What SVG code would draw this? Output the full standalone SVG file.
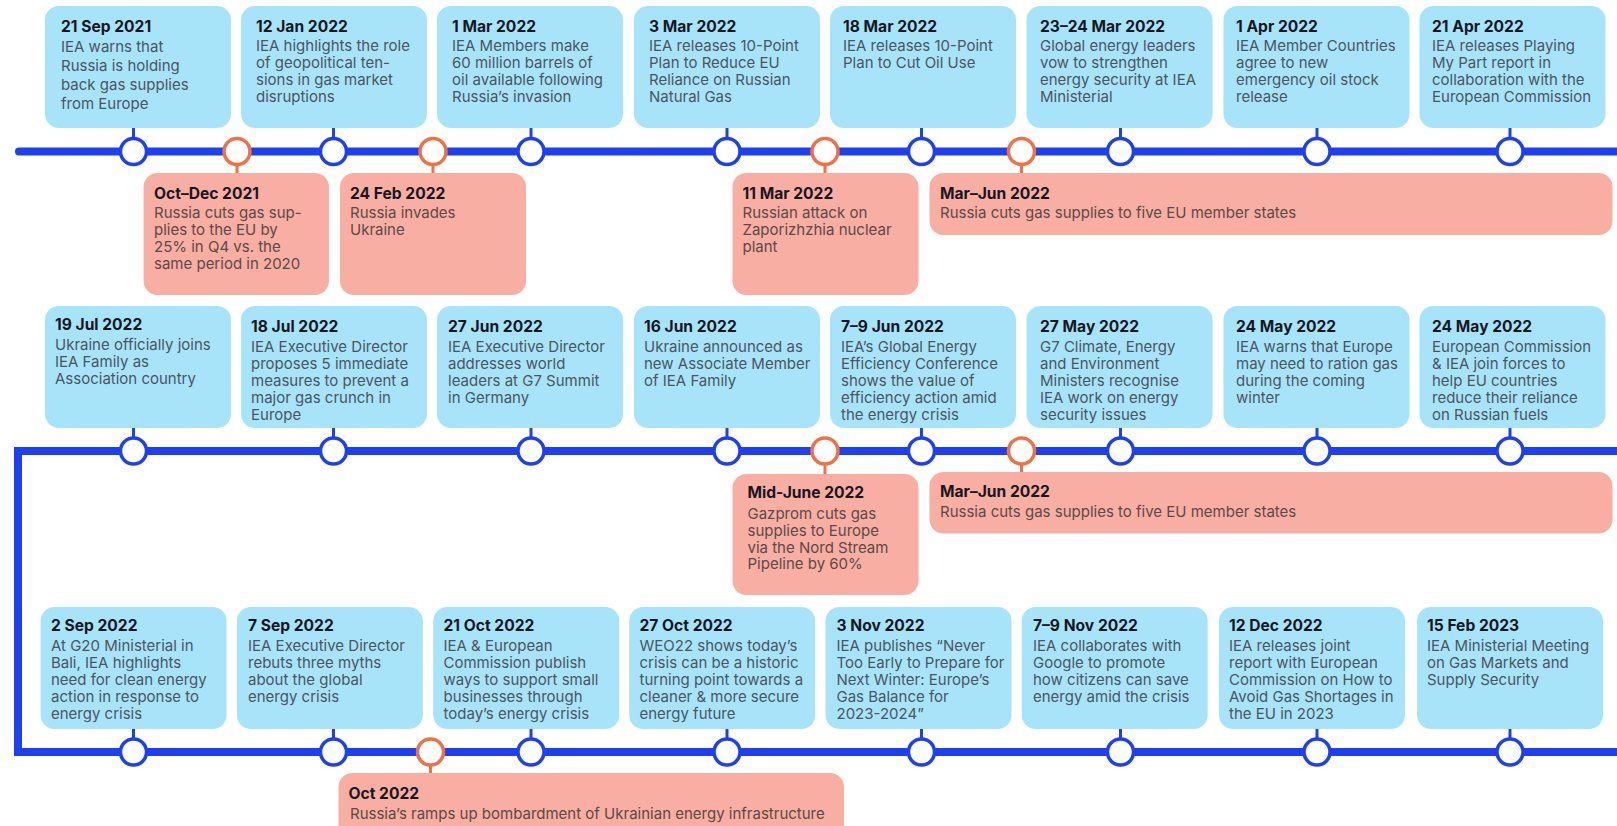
<svg xmlns="http://www.w3.org/2000/svg" width="1617" height="826" viewBox="0 0 1617 826">
<style>
.bb{fill:#a7e4fa}
.pb{fill:#f8aea2}
.t{font-family:Inter,"Liberation Sans",sans-serif;font-size:15.6px;font-weight:700;fill:#17171f}
.b{font-family:Inter,"Liberation Sans",sans-serif;font-size:15px;fill:#4b5560}
.pt{fill:#5b4a47}
.track{fill:none;stroke:#1e40f0;stroke-width:8}
.cb{fill:#fff;stroke:#1e40f0;stroke-width:3.5}
.co{fill:#fff;stroke:#ee7246;stroke-width:3.5}
.sb{stroke:#1e40f0;stroke-width:3}
.so{stroke:#ee7246;stroke-width:3}
</style>
<rect width="1617" height="826" fill="#fff"/>

<g id="connectors">
<line class="track" x1="19" y1="151.5" x2="1617" y2="151.5" stroke-linecap="round"/>
<path class="track" d="M1617,451 H18 V752 H1617" stroke-linejoin="miter"/>
<!-- row 1 stubs -->
<line class="sb" x1="133.5" y1="127" x2="133.5" y2="139"/>
<line class="sb" x1="333.5" y1="127" x2="333.5" y2="139"/>
<line class="sb" x1="531" y1="127" x2="531" y2="139"/>
<line class="sb" x1="727" y1="127" x2="727" y2="139"/>
<line class="sb" x1="921.5" y1="127" x2="921.5" y2="139"/>
<line class="sb" x1="1120.5" y1="127" x2="1120.5" y2="139"/>
<line class="sb" x1="1317" y1="127" x2="1317" y2="139"/>
<line class="sb" x1="1510" y1="127" x2="1510" y2="139"/>
<line class="so" x1="237" y1="164" x2="237" y2="174"/>
<line class="so" x1="433" y1="164" x2="433" y2="174"/>
<line class="so" x1="825" y1="164" x2="825" y2="174"/>
<line class="so" x1="1021.5" y1="164" x2="1021.5" y2="174"/>
<!-- row 2 stubs -->
<line class="sb" x1="133.5" y1="427" x2="133.5" y2="438"/>
<line class="sb" x1="333.5" y1="427" x2="333.5" y2="438"/>
<line class="sb" x1="531" y1="427" x2="531" y2="438"/>
<line class="sb" x1="727" y1="427" x2="727" y2="438"/>
<line class="sb" x1="921.5" y1="427" x2="921.5" y2="438"/>
<line class="sb" x1="1120.5" y1="427" x2="1120.5" y2="438"/>
<line class="sb" x1="1317" y1="427" x2="1317" y2="438"/>
<line class="sb" x1="1510" y1="427" x2="1510" y2="438"/>
<line class="so" x1="825" y1="464" x2="825" y2="475"/>
<line class="so" x1="1021.5" y1="464" x2="1021.5" y2="473"/>
<!-- row 3 stubs -->
<line class="sb" x1="133.5" y1="728" x2="133.5" y2="739"/>
<line class="sb" x1="333.5" y1="728" x2="333.5" y2="739"/>
<line class="sb" x1="531" y1="728" x2="531" y2="739"/>
<line class="sb" x1="727" y1="728" x2="727" y2="739"/>
<line class="sb" x1="921.5" y1="728" x2="921.5" y2="739"/>
<line class="sb" x1="1120.5" y1="728" x2="1120.5" y2="739"/>
<line class="sb" x1="1317" y1="728" x2="1317" y2="739"/>
<line class="sb" x1="1510" y1="728" x2="1510" y2="739"/>
<line class="so" x1="430.5" y1="765" x2="430.5" y2="774"/>
<!-- circles row 1 -->
<circle class="cb" cx="133.5" cy="151.5" r="13"/>
<circle class="co" cx="237" cy="151.5" r="13"/>
<circle class="cb" cx="333.5" cy="151.5" r="13"/>
<circle class="co" cx="433" cy="151.5" r="13"/>
<circle class="cb" cx="531" cy="151.5" r="13"/>
<circle class="cb" cx="727" cy="151.5" r="13"/>
<circle class="co" cx="825" cy="151.5" r="13"/>
<circle class="cb" cx="921.5" cy="151.5" r="13"/>
<circle class="co" cx="1021.5" cy="151.5" r="13"/>
<circle class="cb" cx="1120.5" cy="151.5" r="13"/>
<circle class="cb" cx="1317" cy="151.5" r="13"/>
<circle class="cb" cx="1510" cy="151.5" r="13"/>
<!-- circles row 2 -->
<circle class="cb" cx="133.5" cy="451" r="13"/>
<circle class="cb" cx="333.5" cy="451" r="13"/>
<circle class="cb" cx="531" cy="451" r="13"/>
<circle class="cb" cx="727" cy="451" r="13"/>
<circle class="co" cx="825" cy="451" r="13"/>
<circle class="cb" cx="921.5" cy="451" r="13"/>
<circle class="co" cx="1021.5" cy="451" r="13"/>
<circle class="cb" cx="1120.5" cy="451" r="13"/>
<circle class="cb" cx="1317" cy="451" r="13"/>
<circle class="cb" cx="1510" cy="451" r="13"/>
<!-- circles row 3 -->
<circle class="cb" cx="133.5" cy="752" r="13"/>
<circle class="cb" cx="333.5" cy="752" r="13"/>
<circle class="co" cx="430.5" cy="752" r="13"/>
<circle class="cb" cx="531" cy="752" r="13"/>
<circle class="cb" cx="727" cy="752" r="13"/>
<circle class="cb" cx="921.5" cy="752" r="13"/>
<circle class="cb" cx="1120.5" cy="752" r="13"/>
<circle class="cb" cx="1317" cy="752" r="13"/>
<circle class="cb" cx="1510" cy="752" r="13"/>
</g>

<!-- ROW 1 -->
<g id="n-2021-09-21">
<rect class="bb" x="45" y="6" width="186" height="122" rx="14"/>
<text class="t" x="61" y="31.5">21 Sep 2021</text>
<text class="b"><tspan x="61" y="51.5">IEA warns that</tspan><tspan x="61" y="70.8">Russia is holding</tspan><tspan x="61" y="90.1">back gas supplies</tspan><tspan x="61" y="109.4">from Europe</tspan></text>
</g>
<g id="n-2022-01-12">
<rect class="bb" x="241" y="6" width="186" height="122" rx="14"/>
<text class="t" x="256" y="31.5">12 Jan 2022</text>
<text class="b"><tspan x="256" y="51">IEA highlights the role</tspan><tspan x="256" y="68">of geopolitical ten-</tspan><tspan x="256" y="85">sions in gas market</tspan><tspan x="256" y="102">disruptions</tspan></text>
</g>
<g id="n-2022-03-01">
<rect class="bb" x="437" y="6" width="186" height="122" rx="14"/>
<text class="t" x="452" y="31.5">1 Mar 2022</text>
<text class="b"><tspan x="452" y="51">IEA Members make</tspan><tspan x="452" y="68">60 million barrels of</tspan><tspan x="452" y="85">oil available following</tspan><tspan x="452" y="102">Russia’s invasion</tspan></text>
</g>
<g id="n-2022-03-03">
<rect class="bb" x="634" y="6" width="186" height="122" rx="14"/>
<text class="t" x="649" y="31.5">3 Mar 2022</text>
<text class="b"><tspan x="649" y="51">IEA releases 10-Point</tspan><tspan x="649" y="68">Plan to Reduce EU</tspan><tspan x="649" y="85">Reliance on Russian</tspan><tspan x="649" y="102">Natural Gas</tspan></text>
</g>
<g id="n-2022-03-18">
<rect class="bb" x="830" y="6" width="186" height="122" rx="14"/>
<text class="t" x="843" y="31.5">18 Mar 2022</text>
<text class="b"><tspan x="843" y="51">IEA releases 10-Point</tspan><tspan x="843" y="68">Plan to Cut Oil Use</tspan></text>
</g>
<g id="n-2022-03-23">
<rect class="bb" x="1026.5" y="6" width="186" height="122" rx="14"/>
<text class="t" x="1040" y="31.5">23–24 Mar 2022</text>
<text class="b"><tspan x="1040" y="51">Global energy leaders</tspan><tspan x="1040" y="68">vow to strengthen</tspan><tspan x="1040" y="85">energy security at IEA</tspan><tspan x="1040" y="102">Ministerial</tspan></text>
</g>
<g id="n-2022-04-01">
<rect class="bb" x="1223.5" y="6" width="186" height="122" rx="14"/>
<text class="t" x="1236" y="31.5">1 Apr 2022</text>
<text class="b"><tspan x="1236" y="51">IEA Member Countries</tspan><tspan x="1236" y="68">agree to new</tspan><tspan x="1236" y="85">emergency oil stock</tspan><tspan x="1236" y="102">release</tspan></text>
</g>
<g id="n-2022-04-21">
<rect class="bb" x="1419.5" y="6" width="186" height="122" rx="14"/>
<text class="t" x="1432" y="31.5">21 Apr 2022</text>
<text class="b"><tspan x="1432" y="51">IEA releases Playing</tspan><tspan x="1432" y="68">My Part report in</tspan><tspan x="1432" y="85">collaboration with the</tspan><tspan x="1432" y="102">European Commission</tspan></text>
</g>

<g id="e-2021-q4">
<rect class="pb" x="143.6" y="173" width="185.3" height="122" rx="14"/>
<text class="t" x="154" y="199">Oct–Dec 2021</text>
<text class="b pt"><tspan x="154" y="218.3">Russia cuts gas sup-</tspan><tspan x="154" y="235.3">plies to the EU by</tspan><tspan x="154" y="252.3">25% in Q4 vs. the</tspan><tspan x="154" y="269.3">same period in 2020</tspan></text>
</g>
<g id="e-2022-02-24">
<rect class="pb" x="340" y="173" width="186" height="122" rx="14"/>
<text class="t" x="350" y="199">24 Feb 2022</text>
<text class="b pt"><tspan x="350" y="218.3">Russia invades</tspan><tspan x="350" y="235.3">Ukraine</tspan></text>
</g>
<g id="e-2022-03-11">
<rect class="pb" x="732.5" y="173" width="186" height="122" rx="14"/>
<text class="t" x="742.5" y="199">11 Mar 2022</text>
<text class="b pt"><tspan x="742.5" y="218.3">Russian attack on</tspan><tspan x="742.5" y="235.3">Zaporizhzhia nuclear</tspan><tspan x="742.5" y="252.3">plant</tspan></text>
</g>
<g id="e-2022-mar-jun-a">
<rect class="pb" x="929.5" y="173" width="683" height="62" rx="14"/>
<text class="t" x="940" y="199">Mar–Jun 2022</text>
<text class="b pt" x="940" y="218.3">Russia cuts gas supplies to five EU member states</text>
</g>

<!-- ROW 2 -->
<g id="n-2022-07-19">
<rect class="bb" x="45" y="306" width="186" height="122" rx="14"/>
<text class="t" x="55" y="329.5">19 Jul 2022</text>
<text class="b"><tspan x="55" y="349.5">Ukraine officially joins</tspan><tspan x="55" y="366.5">IEA Family as</tspan><tspan x="55" y="383.5">Association country</tspan></text>
</g>
<g id="n-2022-07-18">
<rect class="bb" x="241" y="306" width="186" height="122" rx="14"/>
<text class="t" x="251" y="332">18 Jul 2022</text>
<text class="b"><tspan x="251" y="352">IEA Executive Director</tspan><tspan x="251" y="369">proposes 5 immediate</tspan><tspan x="251" y="386">measures to prevent a</tspan><tspan x="251" y="403">major gas crunch in</tspan><tspan x="251" y="420">Europe</tspan></text>
</g>
<g id="n-2022-06-27">
<rect class="bb" x="437" y="306" width="186" height="122" rx="14"/>
<text class="t" x="448" y="332">27 Jun 2022</text>
<text class="b"><tspan x="448" y="352">IEA Executive Director</tspan><tspan x="448" y="369">addresses world</tspan><tspan x="448" y="386">leaders at G7 Summit</tspan><tspan x="448" y="403">in Germany</tspan></text>
</g>
<g id="n-2022-06-16">
<rect class="bb" x="634" y="306" width="186" height="122" rx="14"/>
<text class="t" x="644" y="332">16 Jun 2022</text>
<text class="b"><tspan x="644" y="352">Ukraine announced as</tspan><tspan x="644" y="369">new Associate Member</tspan><tspan x="644" y="386">of IEA Family</tspan></text>
</g>
<g id="n-2022-06-07">
<rect class="bb" x="830" y="306" width="186" height="122" rx="14"/>
<text class="t" x="841" y="332">7–9 Jun 2022</text>
<text class="b"><tspan x="841" y="352">IEA’s Global Energy</tspan><tspan x="841" y="369">Efficiency Conference</tspan><tspan x="841" y="386">shows the value of</tspan><tspan x="841" y="403">efficiency action amid</tspan><tspan x="841" y="420">the energy crisis</tspan></text>
</g>
<g id="n-2022-05-27">
<rect class="bb" x="1026.5" y="306" width="186" height="122" rx="14"/>
<text class="t" x="1040" y="332">27 May 2022</text>
<text class="b"><tspan x="1040" y="352">G7 Climate, Energy</tspan><tspan x="1040" y="369">and Environment</tspan><tspan x="1040" y="386">Ministers recognise</tspan><tspan x="1040" y="403">IEA work on energy</tspan><tspan x="1040" y="420">security issues</tspan></text>
</g>
<g id="n-2022-05-24a">
<rect class="bb" x="1223.5" y="306" width="186" height="122" rx="14"/>
<text class="t" x="1236" y="332">24 May 2022</text>
<text class="b"><tspan x="1236" y="352">IEA warns that Europe</tspan><tspan x="1236" y="369">may need to ration gas</tspan><tspan x="1236" y="386">during the coming</tspan><tspan x="1236" y="403">winter</tspan></text>
</g>
<g id="n-2022-05-24b">
<rect class="bb" x="1419.5" y="306" width="186" height="122" rx="14"/>
<text class="t" x="1432" y="332">24 May 2022</text>
<text class="b"><tspan x="1432" y="352">European Commission</tspan><tspan x="1432" y="369">&amp; IEA join forces to</tspan><tspan x="1432" y="386">help EU countries</tspan><tspan x="1432" y="403">reduce their reliance</tspan><tspan x="1432" y="420">on Russian fuels</tspan></text>
</g>

<g id="e-2022-mid-june">
<rect class="pb" x="732.5" y="474" width="186" height="121" rx="14"/>
<text class="t" x="747.5" y="498.3">Mid-June 2022</text>
<text class="b pt"><tspan x="747.5" y="519.3">Gazprom cuts gas</tspan><tspan x="747.5" y="536">supplies to Europe</tspan><tspan x="747.5" y="552.7">via the Nord Stream</tspan><tspan x="747.5" y="569.4">Pipeline by 60%</tspan></text>
</g>
<g id="e-2022-mar-jun-b">
<rect class="pb" x="929.5" y="472" width="683" height="61.5" rx="14"/>
<text class="t" x="940" y="496.7">Mar–Jun 2022</text>
<text class="b pt" x="940" y="516.7">Russia cuts gas supplies to five EU member states</text>
</g>

<!-- ROW 3 -->
<g id="n-2022-09-02">
<rect class="bb" x="40.6" y="607" width="186" height="122" rx="14"/>
<text class="t" x="51" y="630.5">2 Sep 2022</text>
<text class="b"><tspan x="51" y="650.5">At G20 Ministerial in</tspan><tspan x="51" y="667.5">Bali, IEA highlights</tspan><tspan x="51" y="684.5">need for clean energy</tspan><tspan x="51" y="701.5">action in response to</tspan><tspan x="51" y="718.5">energy crisis</tspan></text>
</g>
<g id="n-2022-09-07">
<rect class="bb" x="236.9" y="607" width="186" height="122" rx="14"/>
<text class="t" x="248" y="630.5">7 Sep 2022</text>
<text class="b"><tspan x="248" y="650.5">IEA Executive Director</tspan><tspan x="248" y="667.5">rebuts three myths</tspan><tspan x="248" y="684.5">about the global</tspan><tspan x="248" y="701.5">energy crisis</tspan></text>
</g>
<g id="n-2022-10-21">
<rect class="bb" x="433.2" y="607" width="186" height="122" rx="14"/>
<text class="t" x="443.5" y="630.5">21 Oct 2022</text>
<text class="b"><tspan x="443.5" y="650.5">IEA &amp; European</tspan><tspan x="443.5" y="667.5">Commission publish</tspan><tspan x="443.5" y="684.5">ways to support small</tspan><tspan x="443.5" y="701.5">businesses through</tspan><tspan x="443.5" y="718.5">today’s energy crisis</tspan></text>
</g>
<g id="n-2022-10-27">
<rect class="bb" x="629.2" y="607" width="186" height="122" rx="14"/>
<text class="t" x="639.5" y="630.5">27 Oct 2022</text>
<text class="b"><tspan x="639.5" y="650.5">WEO22 shows today’s</tspan><tspan x="639.5" y="667.5">crisis can be a historic</tspan><tspan x="639.5" y="684.5">turning point towards a</tspan><tspan x="639.5" y="701.5">cleaner &amp; more secure</tspan><tspan x="639.5" y="718.5">energy future</tspan></text>
</g>
<g id="n-2022-11-03">
<rect class="bb" x="825.5" y="607" width="186" height="122" rx="14"/>
<text class="t" x="836.5" y="630.5">3 Nov 2022</text>
<text class="b"><tspan x="836.5" y="650.5">IEA publishes “Never</tspan><tspan x="836.5" y="667.5">Too Early to Prepare for</tspan><tspan x="836.5" y="684.5">Next Winter: Europe’s</tspan><tspan x="836.5" y="701.5">Gas Balance for</tspan><tspan x="836.5" y="718.5">2023-2024”</tspan></text>
</g>
<g id="n-2022-11-07">
<rect class="bb" x="1021.7" y="607" width="186" height="122" rx="14"/>
<text class="t" x="1033" y="630.5">7–9 Nov 2022</text>
<text class="b"><tspan x="1033" y="650.5">IEA collaborates with</tspan><tspan x="1033" y="667.5">Google to promote</tspan><tspan x="1033" y="684.5">how citizens can save</tspan><tspan x="1033" y="701.5">energy amid the crisis</tspan></text>
</g>
<g id="n-2022-12-12">
<rect class="bb" x="1219" y="607" width="186" height="122" rx="14"/>
<text class="t" x="1229" y="630.5">12 Dec 2022</text>
<text class="b"><tspan x="1229" y="650.5">IEA releases joint</tspan><tspan x="1229" y="667.5">report with European</tspan><tspan x="1229" y="684.5">Commission on How to</tspan><tspan x="1229" y="701.5">Avoid Gas Shortages in</tspan><tspan x="1229" y="718.5">the EU in 2023</tspan></text>
</g>
<g id="n-2023-02-15">
<rect class="bb" x="1417" y="607" width="186" height="122" rx="14"/>
<text class="t" x="1427" y="630.5">15 Feb 2023</text>
<text class="b"><tspan x="1427" y="650.5">IEA Ministerial Meeting</tspan><tspan x="1427" y="667.5">on Gas Markets and</tspan><tspan x="1427" y="684.5">Supply Security</tspan></text>
</g>

<g id="e-2022-10">
<rect class="pb" x="338.5" y="773" width="505.5" height="80" rx="14"/>
<text class="t" x="348.5" y="799.3">Oct 2022</text>
<text class="b pt" x="350" y="818.7">Russia’s ramps up bombardment of Ukrainian energy infrastructure</text>
</g>
</svg>
